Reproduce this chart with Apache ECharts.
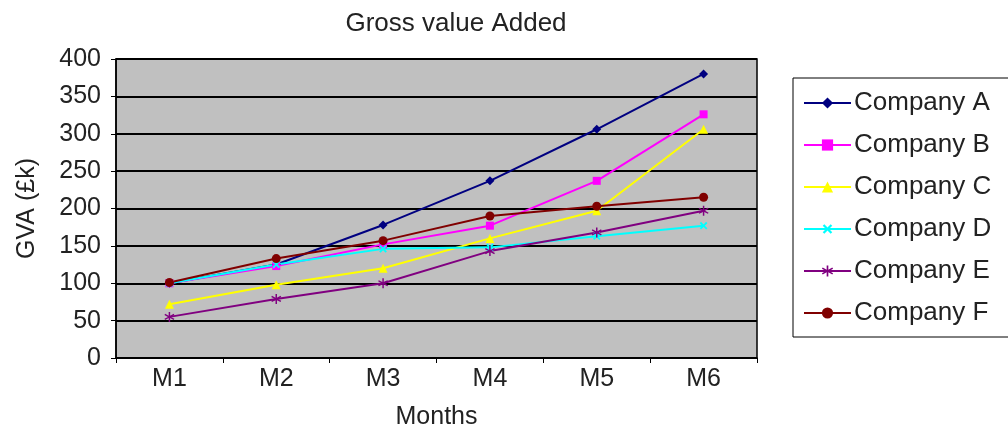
<!DOCTYPE html>
<html><head><meta charset="utf-8">
<script src="https://cdn.jsdelivr.net/npm/echarts@6/dist/echarts.min.js"></script>
<style>html,body{margin:0;padding:0;background:#fff}#c{width:1008px;height:435px}</style>
</head><body><div id="c"></div>
<script>
var categories = ['M1','M2','M3','M4','M5','M6'];
var companyA = [100,125,178,237,306,380];
var companyB = [100,123,152,177,237,326];
var companyC = [72,98,120,160,197,306];
var companyD = [100,125,146,148,163,177];
var companyE = [55,79,100,143,168,197];
var companyF = [101,133,157,190,203,215];
var seriesNames = ['Company A','Company B','Company C','Company D','Company E','Company F'];
var yTicks = [0,50,100,150,200,250,300,350,400];

var colors = ['#000080','#ff00ff','#ffff00','#00ffff','#800080','#800000'];
var xPath = 'path://M4,0H6V4H10V6H6V10H4V6H0V4H4Z';
var starPath = 'path://M4.3,0H5.7V3.8L9,1.9L9.7,3.1L6.4,5L9.7,6.9L9,8.1L5.7,6.2V10H4.3V6.2L1,8.1L0.3,6.9L3.6,5L0.3,3.1L1,1.9L4.3,3.8Z';
var symbols = ['diamond','rect','triangle',xPath,starPath,'circle'];
var symSizes = [9,8,9,9,10,9];
var rotations = [0,0,0,45,0,0];
var data = [companyA,companyB,companyC,companyD,companyE,companyF];

var chart = echarts.init(document.getElementById('c'));
var font = 'Liberation Sans, Arial, sans-serif';
var txt = '#222';
chart.setOption({
  animation:false,
  title:{text:'Gross value Added',left:456,textAlign:'center',top:11,padding:0,textStyle:{fontFamily:font,fontSize:26,fontWeight:'normal',color:txt}},
  graphic:[{type:'rect',shape:{x:793,y:78,width:240,height:259},style:{fill:'#fff',stroke:'#000',lineWidth:1},z:-1}],
  legend:{orient:'vertical',left:803,top:90,padding:0,itemWidth:47,itemHeight:14,itemGap:16,data:seriesNames,
    textStyle:{fontFamily:font,fontSize:26,color:txt,padding:[0,0,0,-2]}},
  grid:{left:116,right:251,top:59,bottom:76,show:true,backgroundColor:'#c0c0c0',borderColor:'#000',borderWidth:1.5},
  xAxis:{type:'category',data:categories,boundaryGap:true,name:'Months',nameLocation:'middle',nameGap:47,
    nameTextStyle:{fontFamily:font,fontSize:25,color:txt},
    axisLine:{lineStyle:{color:'#000',width:1.5}},axisTick:{show:true,length:5,alignWithLabel:false,lineStyle:{color:'#000'}},
    axisLabel:{fontFamily:font,fontSize:25,color:txt,margin:9}},
  yAxis:{type:'value',min:0,max:400,interval:50,name:'GVA (£k)',nameLocation:'middle',nameGap:76,
    nameTextStyle:{fontFamily:font,fontSize:25,color:txt},
    axisLine:{show:true,lineStyle:{color:'#000',width:1.5}},axisTick:{show:true,length:5,lineStyle:{color:'#000'}},
    axisLabel:{fontFamily:font,fontSize:25,color:txt,margin:15,formatter:function(v){return yTicks.indexOf(v)>=0?String(v):'';}},
    splitLine:{show:true,lineStyle:{color:'#000',width:2}}},
  series:data.map(function(d,i){return {name:seriesNames[i],type:'line',data:d,symbol:symbols[i],symbolSize:symSizes[i],symbolRotate:rotations[i],
    itemStyle:{color:colors[i]},lineStyle:{color:colors[i],width:2}};})
});
</script></body></html>
